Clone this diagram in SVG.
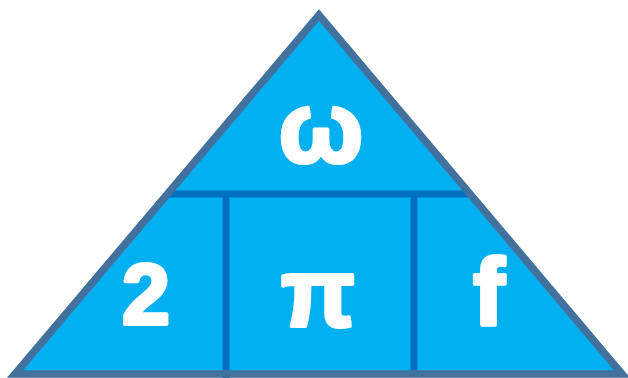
<svg xmlns="http://www.w3.org/2000/svg" width="628" height="378" viewBox="0 0 628 378">
<style>
.lbl{font-family:"Liberation Sans",Arial,sans-serif;font-weight:bold;fill:#ffffff;stroke:#ffffff;stroke-width:4;stroke-linejoin:round;text-anchor:middle}
.div{stroke:#0070c0;stroke-width:7;fill:none}
</style>
<rect width="628" height="378" fill="#ffffff"/>
<g id="triangle">
<polygon points="319,15 15,374 622,374" fill="#00b0f0"/>
</g>
<g id="connectors">
<line class="div" x1="168" y1="194" x2="470" y2="194"/>
<line class="div" x1="226" y1="194" x2="226" y2="378"/>
<line class="div" x1="414" y1="194" x2="414" y2="374"/>
</g>
<g id="outline">
<polygon points="319,15 15,374 622,374" fill="none" stroke="#41719c" stroke-width="7.5"/>
</g>
<g id="omega"><text class="lbl" x="321" y="162" font-size="100">ω</text></g>
<g id="two"><text class="lbl" x="146" y="324" font-size="86">2</text></g>
<g id="pi"><text class="lbl" x="318" y="326" font-size="96">π</text></g>
<g id="f"><text class="lbl" x="489" y="325" font-size="94">f</text></g>
</svg>
